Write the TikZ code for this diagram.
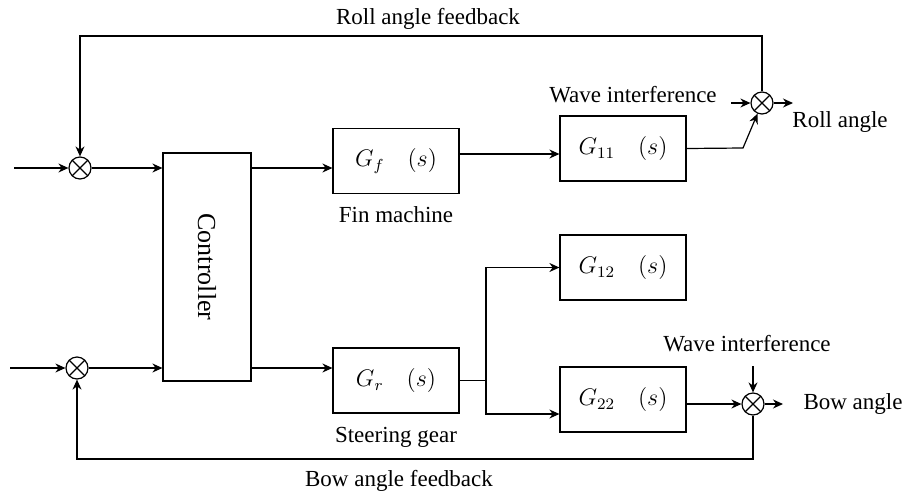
\documentclass[tikz,border=0pt]{standalone}
\usepackage{fontspec}
\setmainfont{Liberation Serif}
\usetikzlibrary{arrows.meta}

\tikzset{
  block/.style={draw, minimum width=63pt, minimum height=32.5pt, inner sep=0pt},
  sumnode/.style={draw, circle, minimum size=11pt, inner sep=0pt,
    path picture={
      \draw (path picture bounding box.north west) -- (path picture bounding box.south east)
            (path picture bounding box.north east) -- (path picture bounding box.south west);
    }},
}

\begin{document}
\begin{tikzpicture}[x=0.5pt, y=-0.5pt, line width=0.6pt, >={Stealth[length=5pt,width=4.5pt]},
    font=\fontsize{11.5pt}{14pt}\selectfont]
    \useasboundingbox (0,0) rectangle (904,493);

    % summing junctions
    \node[sumnode] (s1) at (80,168) {};
    \node[sumnode] (s2) at (762,103) {};
    \node[sumnode] (s3) at (77,368) {};
    \node[sumnode] (s4) at (753,404) {};

    % blocks
    \node[block, minimum width=44pt, minimum height=114pt] (ctrl) at (207,267)
        {\rotatebox{-90}{\fontsize{13pt}{15pt}\selectfont Controller}};
    \node[block] (gf)  at (396,161)   {$G_f$\quad$(s)$};
    \node[block] (g11) at (623,148.5) {$G_{11}$\quad$(s)$};
    \node[block] (gr)  at (396,380.5) {$G_r$\quad$(s)$};
    \node[block] (g12) at (623,267.5) {$G_{12}$\quad$(s)$};
    \node[block] (g22) at (623,399.5) {$G_{22}$\quad$(s)$};

    % labels
    \node (rfbl)  at (428,19)  {Roll angle feedback};
    \node (wave1) at (633,95)  {Wave interference};
    \node (roll)  at (840,122) {Roll angle};
    \node (fin)   at (396,215) {Fin machine};
    \node (steer) at (396,437) {Steering gear};
    \node (wave2) at (747,344) {Wave interference};
    \node (bow)   at (853,404) {Bow angle};
    \node (bfbl)  at (399,481) {Bow angle feedback};

    % free ends and corners
    \coordinate (in1)  at (14,168);
    \coordinate (in2)  at (10,368);
    \coordinate (w1)   at (731,103);
    \coordinate (w2)   at (753,366);
    \coordinate (out1) at (793,103);
    \coordinate (out2) at (783,404);
    \coordinate (bend) at (743,148);
    \coordinate (br)   at (486,380.5);
    \coordinate (rtop) at (762,36);
    \coordinate (bbot) at (753,459);

    % roll channel
    \draw[->] (in1) -- (s1);
    \draw[->] (s1) -- (ctrl.west |- s1);
    \draw[->] (ctrl.east |- s1) -- (gf.west |- s1);
    \draw[->] ([yshift=3.5pt]gf.east) -- ([yshift=3.5pt]gf.east -| g11.west);
    \draw[->] (g11.east) -- (bend) -- (s2);
    \draw[->] (w1) -- (s2);
    \draw[->] (s2) -- (out1);
    \draw[->] (s2) -- (rtop) -| (s1);

    % bow channel
    \draw[->] (in2) -- (s3);
    \draw[->] (s3) -- (ctrl.west |- s3);
    \draw[->] (ctrl.east |- s3) -- (gr.west |- s3);
    \draw (gr.east) -- (br);
    \draw[->] (br) |- (g12.west);
    \draw[->] (br) |- ([yshift=-7.25pt]g22.west);
    \draw[->] (g22.east |- s4) -- (s4);
    \draw[->] (w2) -- (s4);
    \draw[->] (s4) -- (out2);
    \draw[->] (s4) -- (bbot) -| (s3);
\end{tikzpicture}
\end{document}
